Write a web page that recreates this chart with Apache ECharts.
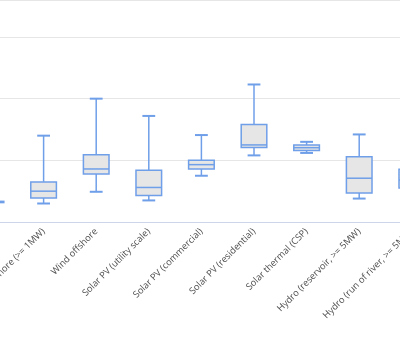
<!DOCTYPE html>
<html>
<head>
<meta charset="utf-8">
<script src="https://cdn.jsdelivr.net/npm/echarts@6/dist/echarts.min.js"></script>
<style>
html,body{margin:0;padding:0;width:400px;height:337px;overflow:hidden;background:#fff;}
#chart{position:absolute;left:-100px;top:0;width:600px;height:337px;}
</style>
</head>
<body>
<div id="chart"></div>
<script>
const categories = [
  "Wind onshore (< 1MW)",
  "Wind onshore (>= 1MW)",
  "Wind offshore",
  "Solar PV (utility scale)",
  "Solar PV (commercial)",
  "Solar PV (residential)",
  "Solar thermal (CSP)",
  "Hydro (reservoir, >= 5MW)",
  "Hydro (run of river, >= 5MW)"
];
const lowValues    = [0.031, 0.030, 0.049, 0.035, 0.075, 0.108, 0.112, 0.038, 0.035];
const q1Values     = [0.0315, 0.039, 0.078, 0.043, 0.086, 0.121, 0.116, 0.047, 0.055];
const medianValues = [0.032, 0.050, 0.086, 0.056, 0.093, 0.125, 0.1205, 0.071, 0.068];
const q3Values     = [0.0335, 0.065, 0.109, 0.084, 0.100, 0.158, 0.125, 0.106, 0.0855];
const highValues   = [0.034, 0.140, 0.200, 0.172, 0.141, 0.223, 0.130, 0.142, 0.130];

const data = categories.map((c, i) => [i, lowValues[i], q1Values[i], medianValues[i], q3Values[i], highValues[i]]);

const blue = '#6f9fe8';
const chart = echarts.init(document.getElementById('chart'), null, {renderer: 'canvas'});
chart.setOption({
  animation: false,
  grid: {left: 64.7, width: 473.4, top: 0, height: 222},
  xAxis: {
    type: 'category',
    data: categories,
    boundaryGap: true,
    axisLine: {show: true, lineStyle: {color: '#ccd6eb', width: 1}},
    axisTick: {show: false},
    splitLine: {show: false},
    axisLabel: {
      interval: 0, rotate: 45, margin: 8,
      fontSize: 9.3, color: '#4d4d4d', fontFamily: 'Open Sans'
    }
  },
  yAxis: {
    type: 'value',
    min: 0, max: 0.36, interval: 0.1,
    axisLine: {show: false},
    axisTick: {show: false},
    axisLabel: {show: false},
    splitLine: {show: true, lineStyle: {color: '#e6e6e6', width: 1}}
  },
  series: [{
    type: 'custom',
    data: data,
    encode: {x: 0, y: [1, 2, 3, 4, 5]},
    renderItem: function (params, api) {
      const i = api.value(0);
      const pMin = api.coord([i, api.value(1)]);
      const pQ1 = api.coord([i, api.value(2)]);
      const pMed = api.coord([i, api.value(3)]);
      const pQ3 = api.coord([i, api.value(4)]);
      const pMax = api.coord([i, api.value(5)]);
      const band = api.size([1, 0])[0];
      const bw = band * 0.487;
      const cw = bw / 2;
      const cx = pQ1[0];
      return {
        type: 'group',
        children: [
          {type: 'line', shape: {x1: cx, y1: pMax[1], x2: cx, y2: pQ3[1]}, style: {stroke: blue, lineWidth: 1.5}},
          {type: 'line', shape: {x1: cx, y1: pQ1[1], x2: cx, y2: pMin[1]}, style: {stroke: blue, lineWidth: 1.5}},
          {type: 'line', shape: {x1: cx - cw / 2, y1: pMax[1], x2: cx + cw / 2, y2: pMax[1]}, style: {stroke: blue, lineWidth: 2}},
          {type: 'line', shape: {x1: cx - cw / 2, y1: pMin[1], x2: cx + cw / 2, y2: pMin[1]}, style: {stroke: blue, lineWidth: 2}},
          {type: 'rect', shape: {x: cx - bw / 2, y: pQ3[1], width: bw, height: pQ1[1] - pQ3[1]}, style: {fill: '#e6e6e6', stroke: blue, lineWidth: 1.5}},
          {type: 'line', shape: {x1: cx - bw / 2, y1: pMed[1], x2: cx + bw / 2, y2: pMed[1]}, style: {stroke: blue, lineWidth: 1.5}}
        ]
      };
    }
  }]
});
</script>
</body>
</html>
